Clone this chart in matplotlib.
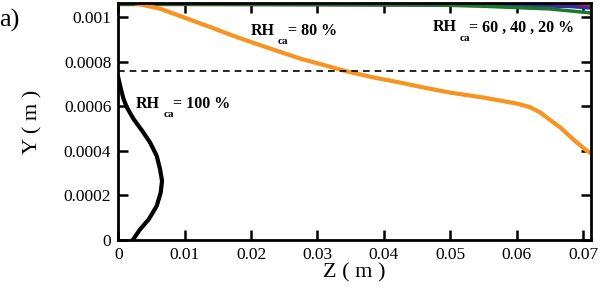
import matplotlib.pyplot as plt

plt.rcParams['font.family'] = ['Liberation Serif', 'DejaVu Serif']

# RH_ca = 100 % (black)
z_100 = [0.0, 0.0004, 0.0008, 0.0013, 0.0023, 0.0036, 0.0048, 0.0058, 0.0063, 0.0066,
         0.0064, 0.0058, 0.0046, 0.0033, 0.0026, 0.0022]
y_100 = [0.000731, 0.000679, 0.000634, 0.000596, 0.000544, 0.000491, 0.000438, 0.000378,
         0.000318, 0.000266, 0.000213, 0.000153, 0.000093, 0.000048, 0.000018, 0.0]

# RH_ca = 80 % (orange)
z_80 = [0.0028, 0.0063, 0.0098, 0.0139, 0.0179, 0.0224, 0.0274, 0.0345, 0.0385, 0.0425,
        0.046, 0.050, 0.055, 0.060, 0.062, 0.0636, 0.065, 0.0666, 0.0686, 0.0706, 0.0712]
y_80 = [0.001062, 0.001039, 0.001001, 0.000956, 0.000911, 0.000865, 0.000815, 0.000757,
        0.00073, 0.000707, 0.000685, 0.000662, 0.00064, 0.000613, 0.000597, 0.000572,
        0.00054, 0.000505, 0.00045, 0.00040, 0.00039]

# RH_ca = 60, 40, 20 % (hugging the top)
z_20 = [0.0, 0.060, 0.068, 0.0712]
y_20 = [0.001058, 0.001058, 0.001055, 0.001048]
z_40 = [0.0, 0.030, 0.060, 0.068, 0.0712]
y_40 = [0.00106, 0.001057, 0.001054, 0.001049, 0.001042]
z_60 = [0.0, 0.045, 0.055, 0.065, 0.0712]
y_60 = [0.00106, 0.001058, 0.00105, 0.001038, 0.00102]

y_dash = 0.000761

fig = plt.figure(figsize=(6, 2.92), dpi=100)
ax = fig.add_axes([0.197, 0.178, 0.788, 0.812])

ax.plot(z_20, y_20, color='#e02020', lw=2.5)
ax.plot(z_40, y_40, color='#3a2aa0', lw=2.5)
ax.plot(z_60, y_60, color='#1a7a2a', lw=2.5)
ax.plot(z_80, y_80, color='#f7931e', lw=3, solid_joinstyle='round')
ax.plot(z_100, y_100, color='black', lw=3, solid_joinstyle='round')
ax.axhline(y_dash, color='black', lw=1.2, ls=(0, (4, 3)))

ax.set_xlim(0, 0.0712)
ax.set_ylim(0, 0.001065)
ax.set_xticks([0, 0.01, 0.02, 0.03, 0.04, 0.05, 0.06, 0.07])
ax.set_xticklabels(['0', '0.01', '0.02', '0.03', '0.04', '0.05', '0.06', '0.07'])
ax.set_yticks([0, 0.0002, 0.0004, 0.0006, 0.0008, 0.001])
ax.set_yticklabels(['0', '0.0002', '0.0004', '0.0006', '0.0008', '0.001'])
ax.tick_params(direction='in', length=7, width=1.8, top=True, right=True,
               labelsize=12.5, pad=5)
for s in ax.spines.values():
    s.set_linewidth(2)

ax.set_xlabel('Z ( m )', fontsize=16, labelpad=0)
ax.set_ylabel('Y ( m )', fontsize=16, labelpad=15)


def rh_label(z, y, z_sub, y_sub, z_rest, rest):
    kw = dict(fontweight='bold', va='center', ha='left')
    ax.text(z, y, 'RH', fontsize=11.5, **kw)
    ax.text(z_sub, y_sub, 'ca', fontsize=8, **kw)
    ax.text(z_rest, y, rest, fontsize=11.5, **kw)


rh_label(0.0199, 0.000941, 0.0240, 0.000893, 0.0255, '= 80 %')
rh_label(0.0473, 0.000955, 0.0514, 0.000907, 0.0529, '= 60 , 40 , 20 %')
rh_label(0.0027, 0.000613, 0.0068, 0.000565, 0.0083, '= 100 %')

fig.text(-0.002, 0.93, 'a)', fontsize=19, va='center')

fig.savefig('out.png', dpi=100)
